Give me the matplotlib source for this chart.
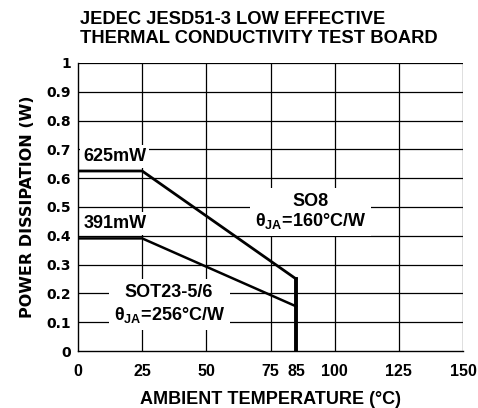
import matplotlib.pyplot as plt
from matplotlib.patches import Rectangle
from matplotlib.transforms import Bbox

plt.rcParams['font.family'] = ['Liberation Sans', 'DejaVu Sans']
plt.rcParams['font.weight'] = 'bold'
plt.rcParams['mathtext.fontset'] = 'custom'
plt.rcParams['mathtext.rm'] = 'Liberation Sans'
plt.rcParams['mathtext.bf'] = 'Liberation Sans:bold'

# derating curves (temperature in C, power in W)
so8_temp = [0, 25, 85, 85]
so8_power = [0.625, 0.625, 0.25, 0.0]
sot_temp = [0, 25, 85]
sot_power = [0.391, 0.391, 0.155]

xticks = [0, 25, 50, 75, 85, 100, 125, 150]
xgrid = [25, 50, 75, 100, 125, 150]
yticks = [0, 0.1, 0.2, 0.3, 0.4, 0.5, 0.6, 0.7, 0.8, 0.9, 1]
ytick_labels = ['0', '0.1', '0.2', '0.3', '0.4', '0.5', '0.6', '0.7', '0.8', '0.9', '1']

fig = plt.figure(figsize=(4.78, 4.08), dpi=100)
ax = fig.add_axes([0.1632, 0.1397, 0.8054, 0.7059])

for x in xgrid:
    ax.axvline(x, color='black', lw=0.9, zorder=1)
for y in yticks[1:]:
    ax.axhline(y, color='black', lw=0.9, zorder=1)

ax.plot(so8_temp[:3], so8_power[:3], color='black', lw=2.0, zorder=3)
ax.plot(so8_temp[2:], so8_power[2:], color='black', lw=2.8, zorder=3)
ax.plot(sot_temp, sot_power, color='black', lw=1.8, zorder=3)

ax.set_xlim(0, 150)
ax.set_ylim(0, 1)
ax.set_xticks(xticks)
ax.set_xticklabels([str(t) for t in xticks], fontsize=11.5)
ax.set_yticks(yticks)
ax.set_yticklabels(ytick_labels, fontsize=10, family='DejaVu Sans')
ax.tick_params(length=0)
ax.tick_params(axis='y', pad=5)
ax.tick_params(axis='x', pad=9)
for s in ax.spines.values():
    s.set_color('black')
    s.set_linewidth(1.0)
ax.spines['top'].set_visible(False)
ax.spines['right'].set_visible(False)

box = dict(facecolor='white', edgecolor='none', pad=2)
ax.text(2, 0.66, '625mW', fontsize=13, fontweight='bold', ha='left', va='baseline',
        bbox=box, zorder=4)
ax.text(2, 0.427, '391mW', fontsize=13, fontweight='bold', ha='left', va='baseline',
        bbox=box, zorder=4)

labels = [
    (90.5, 0.502, 0.434, 'SO8', r'$\mathrm{\theta}_{\mathbf{JA}}$=160°C/W'),
    (35.5, 0.186, 0.108, 'SOT23-5/6', r'$\mathrm{\theta}_{\mathbf{JA}}$=256°C/W'),
]
pairs = []
for x, y1, y2, name, theta in labels:
    t1 = ax.text(x, y1, name, fontsize=13, fontweight='bold', ha='center',
                 va='baseline', zorder=4)
    t2 = ax.text(x, y2, theta, fontsize=13, fontweight='bold', ha='center',
                 va='baseline', zorder=4)
    pairs.append((t1, t2))

ax.set_xlabel('AMBIENT TEMPERATURE (°C)', fontsize=13, fontweight='bold', labelpad=9)
ax.set_ylabel('POWER DISSIPATION (W)', fontsize=11.5, fontweight='bold',
              family='DejaVu Sans', labelpad=8)

fig.text(0.168, 0.972, 'JEDEC JESD51-3 LOW EFFECTIVE\nTHERMAL CONDUCTIVITY TEST BOARD',
         fontsize=13.2, fontweight='bold', ha='left', va='top', linespacing=1.1)

# white panel behind each two-line label, hiding the grid
fig.canvas.draw()
renderer = fig.canvas.get_renderer()
for t1, t2 in pairs:
    bb = Bbox.union([t1.get_window_extent(renderer), t2.get_window_extent(renderer)])
    bb = bb.padded(5)
    db = ax.transData.inverted().transform_bbox(bb)
    ax.add_patch(Rectangle((db.x0, db.y0), db.width, db.height, facecolor='white',
                           edgecolor='none', zorder=2))

fig.savefig('out.png', dpi=100)
